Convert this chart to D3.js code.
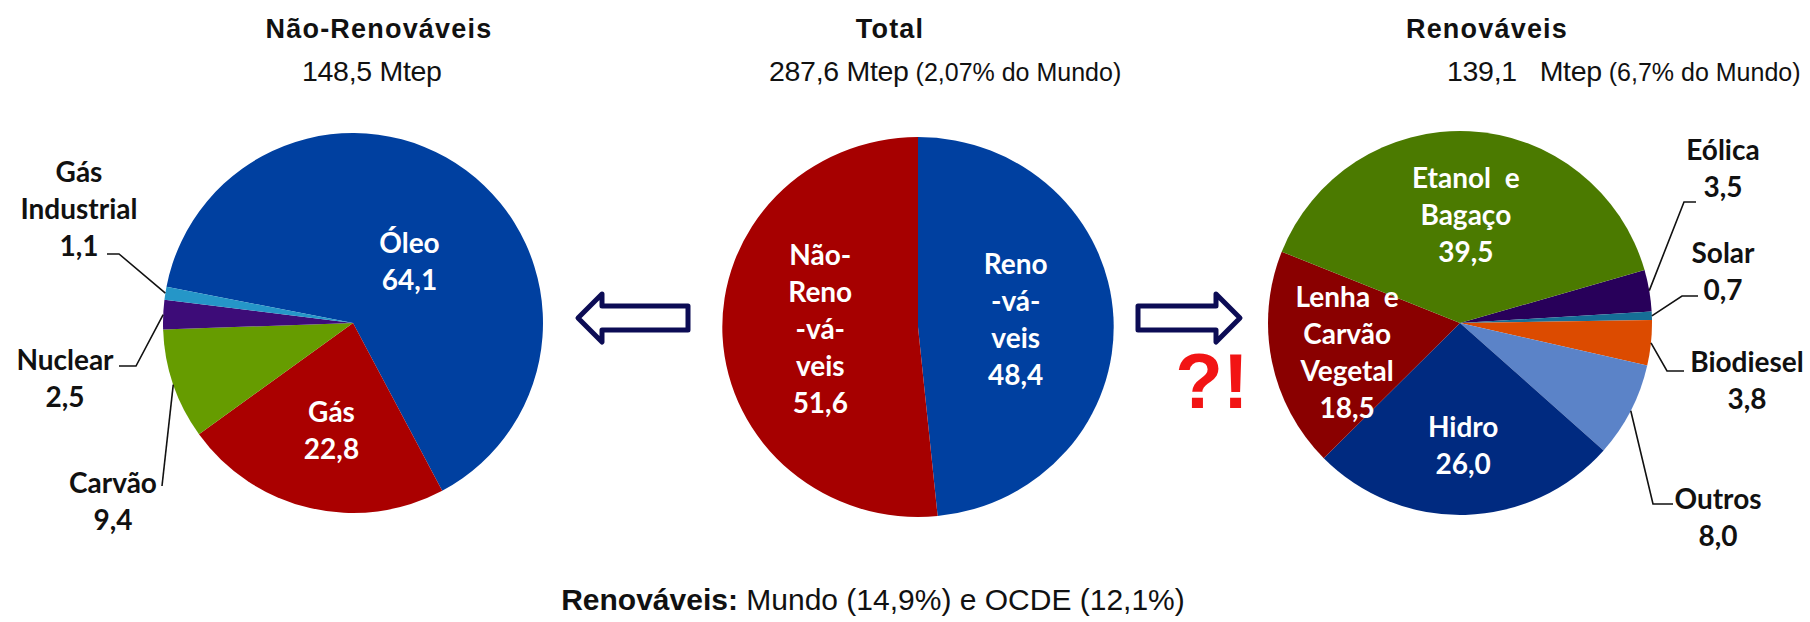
<!DOCTYPE html>
<html>
<head>
<meta charset="utf-8">
<script src="https://cdn.jsdelivr.net/npm/d3@7"></script>
<style>
  body { margin: 0; background: #fff; }
  .lbl { font-family: Lato, "Open Sans", sans-serif; font-weight: 700; font-size: 28px; white-space: pre; }
  .ttl { font-family: "Liberation Sans", Arial, sans-serif; }
</style>
</head>
<body>
<div id="chart"></div>
<script>

    // Não-Renováveis (Mtep %), clockwise order
    const nonRenCats = ["Óleo", "Gás", "Carvão", "Nuclear", "Gás Industrial"];
    const nonRenVals = [64.1, 22.8, 9.4, 2.5, 1.1];
    const nonRenLines = [["Óleo"], ["Gás"], ["Carvão"], ["Nuclear"], ["Gás", "Industrial"]];
    const nonRenColors = ["#0040A0", "#AA0000", "#669C00", "#3D0C78", "#2596C8"];

    // Total
    const totalCats = ["Renováveis", "Não-Renováveis"];
    const totalVals = [48.4, 51.6];
    const totalLines = [["Reno", "-vá-", "veis"], ["Não-", "Reno", "-vá-", "veis"]];
    const totalColors = ["#0040A0", "#A60000"];

    // Renováveis, clockwise order
    const renCats = ["Eólica", "Solar", "Biodiesel", "Outros", "Hidro", "Lenha e Carvão Vegetal", "Etanol e Bagaço"];
    const renVals = [3.5, 0.7, 3.8, 8.0, 26.0, 18.5, 39.5];
    const renLines = [["Eólica"], ["Solar"], ["Biodiesel"], ["Outros"], ["Hidro"], ["Lenha  e", "Carvão", "Vegetal"], ["Etanol  e", "Bagaço"]];
    const renColors = ["#28005A", "#166E96", "#DC4B00", "#5B83C8", "#002A80", "#8A0000", "#4B7A00"];

    const width = 1810, height = 622;
    const lineH = 37;
    const fmt = v => v.toFixed(1).replace(".", ",");
    const rad = deg => deg * Math.PI / 180;

    const svg = d3.select("#chart").append("svg")
        .attr("width", width)
        .attr("height", height);

    // hand-placed outside labels (as in the original)
    const outside = {
        "Gás Industrial": { x: 79, y: 182, elbow: [119, 254], end: [107, 254] },
        "Nuclear": { x: 65, y: 370, elbow: [136, 366], end: [119, 366] },
        "Carvão": { x: 113, y: 493, elbow: [162, 486], end: [162, 486] },
        "Eólica": { x: 1723, y: 160, elbow: [1684, 202], end: [1696, 202] },
        "Solar": { x: 1723, y: 263, elbow: [1682, 296], end: [1698, 296] },
        "Biodiesel": { x: 1747, y: 372, elbow: [1667, 371], end: [1684, 371] },
        "Outros": { x: 1718, y: 509, elbow: [1653, 504], end: [1673, 504] }
    };

    function drawPie(cfg){
        const sx = cfg.sx || 1;
        const ldy = cfg.ldy || 0;
        const data = cfg.cats.map((c, i) => ({ cat: c, value: cfg.vals[i], lines: cfg.lines[i], color: cfg.colors[i] }));
        const pie = d3.pie().sort(null).value(d => d.value)
            .startAngle(rad(cfg.start)).endAngle(rad(cfg.start) + 2 * Math.PI);
        const arcs = pie(data);
        const arc = d3.arc().innerRadius(0).outerRadius(cfg.r);
        const labelArc = d3.arc().innerRadius(cfg.r * cfg.lr).outerRadius(cfg.r * cfg.lr);
        const edgeArc = d3.arc().innerRadius(cfg.r).outerRadius(cfg.r);

        const g = svg.append("g")
            .attr("transform", `translate(${cfg.cx},${cfg.cy}) scale(${sx},1)`);

        g.selectAll("path.slice")
            .data(arcs)
            .enter()
            .append("path")
            .attr("class", "slice")
            .attr("d", arc)
            .attr("fill", d => d.data.color);

        // labels inside the slices
        arcs.filter(d => !outside[d.data.cat]).forEach(d => {
            const [lx, ly] = labelArc.centroid(d);
            const lines = d.data.lines.concat([fmt(d.data.value)]);
            const y0 = cfg.cy + ly + ldy - (lines.length - 1) * lineH / 2 + 10;
            const t = svg.append("text")
                .attr("class", "lbl")
                .attr("fill", "#fff")
                .attr("text-anchor", "middle");
            lines.forEach((s, i) => {
                t.append("tspan")
                    .attr("x", cfg.cx + lx * sx)
                    .attr("y", y0 + i * lineH)
                    .text(s);
            });
        });

        // labels outside with leader lines
        arcs.filter(d => outside[d.data.cat]).forEach(d => {
            const o = outside[d.data.cat];
            const [ex, ey] = edgeArc.centroid(d);
            svg.append("polyline")
                .attr("points", [[cfg.cx + ex * sx, cfg.cy + ey], o.elbow, o.end].map(p => p.join(",")).join(" "))
                .attr("fill", "none")
                .attr("stroke", "#111")
                .attr("stroke-width", 1.6);
            const lines = d.data.lines.concat([fmt(d.data.value)]);
            const t = svg.append("text")
                .attr("class", "lbl")
                .attr("fill", "#111")
                .attr("text-anchor", "middle");
            lines.forEach((s, i) => {
                t.append("tspan")
                    .attr("x", o.x)
                    .attr("y", o.y + i * lineH)
                    .text(s);
            });
        });
    }

    drawPie({ cats: nonRenCats, vals: nonRenVals, lines: nonRenLines, colors: nonRenColors,
        cx: 353, cy: 323, r: 190, start: -79, lr: 0.5, ldy: 15 });
    drawPie({ cats: totalCats, vals: totalVals, lines: totalLines, colors: totalColors,
        cx: 918, cy: 327, r: 190, sx: 1.03, start: 0, lr: 0.5, ldy: -3 });
    drawPie({ cats: renCats, vals: renVals, lines: renLines, colors: renColors,
        cx: 1460, cy: 323, r: 192, start: 74, lr: 0.6, ldy: 7 });

    // titles
    const titles = [
        { x: 379, text: "Não-Renováveis" },
        { x: 890, text: "Total" },
        { x: 1487, text: "Renováveis" }
    ];
    svg.selectAll("text.title")
        .data(titles)
        .enter()
        .append("text")
        .attr("class", "ttl title")
        .attr("x", d => d.x)
        .attr("y", 38)
        .attr("text-anchor", "middle")
        .attr("font-size", 27)
        .attr("font-weight", 700)
        .attr("letter-spacing", 1.2)
        .attr("fill", "#111")
        .text(d => d.text);

    const subs = [
        { x: 302, main: "148,5 Mtep", extra: "" },
        { x: 769, main: "287,6 Mtep", extra: " (2,07% do Mundo)", es: 25 },
        { x: 1447, main: "139,1   Mtep", extra: " (6,7% do Mundo)", es: 25 }
    ];
    subs.forEach(s => {
        const t = svg.append("text")
            .attr("class", "ttl")
            .attr("x", s.x)
            .attr("y", 81)
            .attr("fill", "#111")
            .style("white-space", "pre");
        t.append("tspan").attr("font-size", 28.5).attr("letter-spacing", -0.3).text(s.main);
        if (s.extra) t.append("tspan").attr("font-size", s.es).text(s.extra);
    });

    // arrows
    function arrow(tail, tip, cy){
        const dir = Math.sign(tip - tail);
        const head = 24, sh = 12, hh = 24;
        const hb = tip - dir * head;
        const pts = [[tail, cy - sh], [hb, cy - sh], [hb, cy - hh], [tip, cy], [hb, cy + hh], [hb, cy + sh], [tail, cy + sh]];
        svg.append("path")
            .attr("d", d3.line()(pts) + "Z")
            .attr("fill", "#fff")
            .attr("stroke", "#0C0C55")
            .attr("stroke-width", 5)
            .attr("stroke-linejoin", "round");
    }
    arrow(688, 578, 318);
    arrow(1138, 1240, 318);

    svg.append("text")
        .attr("class", "ttl")
        .attr("x", 1212)
        .attr("y", 408)
        .attr("text-anchor", "middle")
        .attr("font-size", 78)
        .attr("font-weight", 700)
        .attr("fill", "#F21414")
        .text("?!");

    // footer
    const foot = svg.append("text")
        .attr("class", "ttl")
        .attr("x", 873)
        .attr("y", 610)
        .attr("text-anchor", "middle")
        .attr("font-size", 30)
        .attr("fill", "#111");
    foot.append("tspan").attr("font-weight", 700).text("Renováveis:");
    foot.append("tspan").text(" Mundo (14,9%) e OCDE (12,1%)");

</script>
</body>
</html>
